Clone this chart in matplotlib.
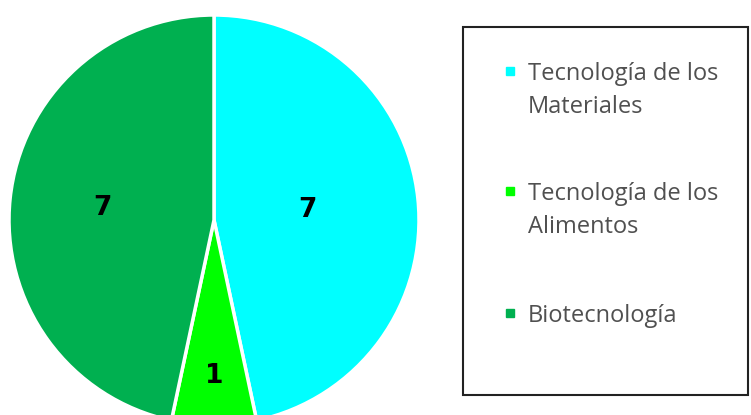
import matplotlib.pyplot as plt
from matplotlib.patches import Rectangle
import numpy as np

labels = ['Tecnología de los\nMateriales', 'Tecnología de los\nAlimentos', 'Biotecnología']
values = [7, 1, 7]
colors = ['#00FFFF', '#00FF00', '#00B050']

W, H = 751, 415
fig = plt.figure(figsize=(7.51, 4.15), dpi=100)
ax = fig.add_axes([0, 0, 1, 1])

cx, cy, r = 214, 195, 205
wedges, _ = ax.pie(values, colors=colors, startangle=90, counterclock=False,
                   center=(cx, cy), radius=r,
                   wedgeprops=dict(edgecolor='white', linewidth=2.5))
ax.set_xlim(0, W)
ax.set_ylim(0, H)
ax.set_aspect('equal')
ax.axis('off')

# value labels, placed at different distances like the original
dist = [0.46, 0.76, 0.545]
for w, v, d in zip(wedges, values, dist):
    ang = np.deg2rad((w.theta1 + w.theta2) / 2)
    ax.text(cx + d * r * np.cos(ang), cy + d * r * np.sin(ang), str(v),
            ha='center', va='center', fontsize=19, fontweight='bold', color='black')

# legend frame
fig.patches.append(Rectangle((463 / W, 20 / H), 285 / W, 368 / H, transform=fig.transFigure,
                             fill=False, edgecolor='#222222', linewidth=1.5))

# legend entries drawn by hand so the key sits on the first line
entry_top = [80, 200, 322]   # baseline of first line, pixels from top
for lab, c, yb in zip(labels, colors, entry_top):
    ax.plot(510, H - yb + 9, marker='s', markersize=6, color=c, linestyle='none')
    for i, line in enumerate(lab.split('\n')):
        ax.text(528, H - yb - 33 * i, line, ha='left', va='baseline',
                fontsize=17, family='Open Sans', color='#505050')

fig.savefig('out.png', dpi=100)
